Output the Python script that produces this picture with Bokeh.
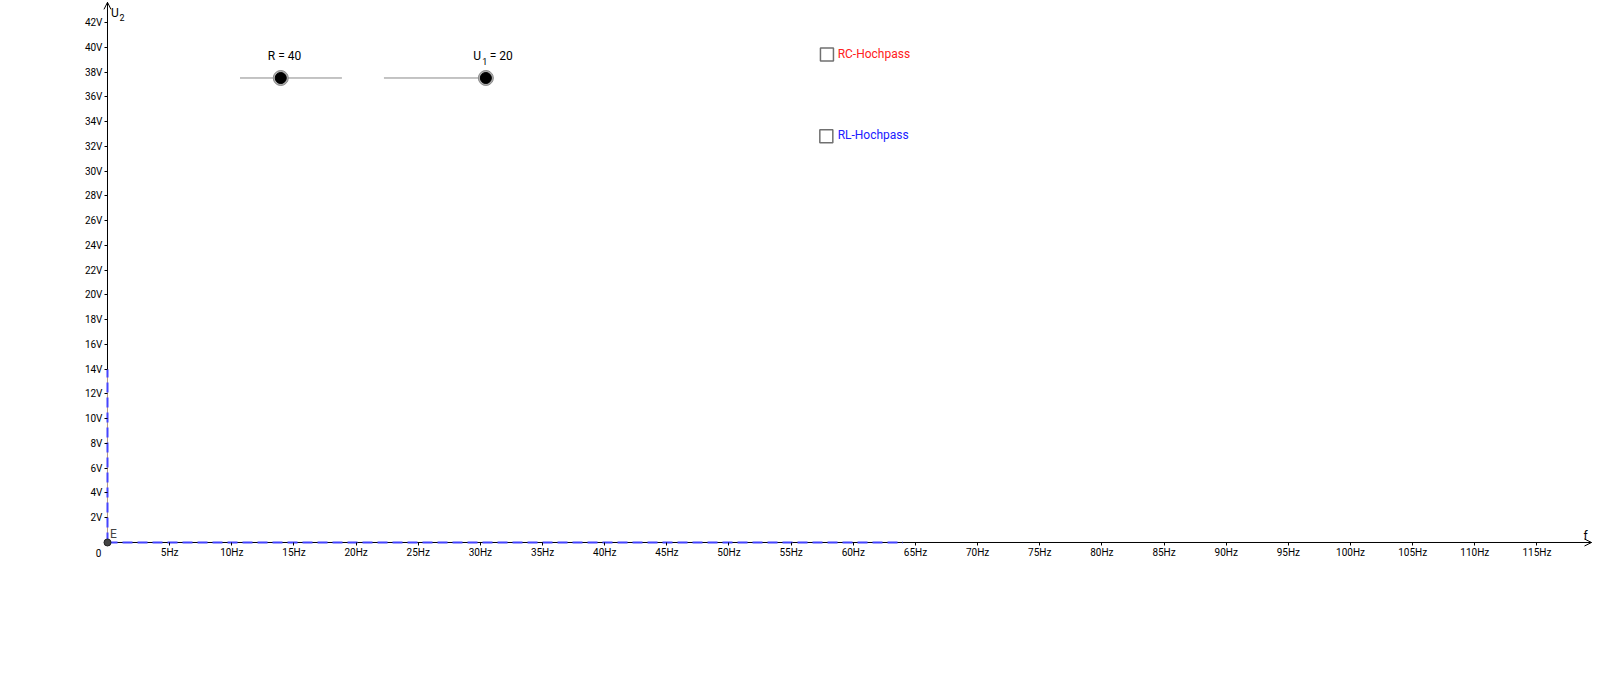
from bokeh.plotting import figure
from bokeh.models import FixedTicker, Arrow, OpenHead, Range1d
from bokeh.core.properties import value
from bokeh.embed import file_html
from bokeh.resources import INLINE

# ---- data ----
x_ticks = list(range(5, 120, 5))          # Hz
x_tick_labels = [f"{t}Hz" for t in x_ticks]
y_ticks = list(range(2, 44, 2))           # V
y_tick_labels = [f"{t}V" for t in y_ticks]

R_value, R_min, R_max = 40, 0, 100
U1_value, U1_min, U1_max = 20, 0, 20

# visible (degenerate) curve pieces, dashed blue
curve_h_f = [0, 64]
curve_h_u = [0, 0]
curve_v_f = [0, 0]
curve_v_u = [0, 14]

checkbox_labels = ["RC-Hochpass", "RL-Hochpass"]
checkbox_colors = ["#ff2020", "#2020ff"]

FONT = value("Roboto")

W, H = 1592, 674
SX, SY = 12.43, 12.38
X0 = -8.608
X1 = X0 + W / SX
Y1 = 43.78
Y0 = Y1 - H / SY

p = figure(width=W, height=H,
           x_range=Range1d(X0, X1), y_range=Range1d(Y0, Y1),
           output_backend="svg", toolbar_location=None, min_border=0,
           outline_line_color=None, background_fill_color="white",
           border_fill_color="white")
p.grid.visible = False

# axes fixed through the origin
for ax in (p.xaxis, p.yaxis):
    ax.fixed_location = 0
    ax.axis_line_color = None
    ax.major_tick_in = 0
    ax.major_tick_out = 3
    ax.minor_tick_line_color = None
    ax.major_tick_line_color = "black"
    ax.major_label_text_font = "Roboto"
    ax.major_label_text_font_size = "10px"
    ax.major_label_text_color = "black"
    ax.major_label_standoff = 2
p.xaxis.ticker = FixedTicker(ticks=x_ticks)
p.xaxis.major_label_overrides = {t: l for t, l in zip(x_ticks, x_tick_labels)}
p.yaxis.ticker = FixedTicker(ticks=y_ticks)
p.yaxis.major_label_overrides = {t: l for t, l in zip(y_ticks, y_tick_labels)}

# axis lines (positive direction only) with open arrow heads
x_tip = X1 - 0.08
y_tip = Y1 - 0.15
p.line([0, x_tip], [0, 0], line_color="black", line_width=1)
p.line([0, 0], [0, y_tip], line_color="black", line_width=1)
p.add_layout(Arrow(end=OpenHead(size=7, line_width=1, line_color="black"),
                   x_start=x_tip - 0.3, y_start=0, x_end=x_tip, y_end=0,
                   line_color="black", line_width=1))
p.add_layout(Arrow(end=OpenHead(size=7, line_width=1, line_color="black"),
                   x_start=0, y_start=y_tip - 0.3, x_end=0, y_end=y_tip,
                   line_color="black", line_width=1))

# curves (dashed blue) drawn over the axes
p.line(curve_v_f, curve_v_u, line_color="#b89a88", line_width=1)
p.line(curve_h_f, curve_h_u, line_color="#4444ff", line_width=2, line_dash="10 5")
p.line(curve_v_f, curve_v_u, line_color="#4444ff", line_width=2, line_dash="10 5")

# axis titles
p.text(x=[0.28], y=[42.81], text=["U"], text_font=FONT, text_font_size="12px",
       text_color="black", text_baseline="alphabetic", text_align="left")
p.text(x=[0.97], y=[42.40], text=["2"], text_font=FONT, text_font_size="9px",
       text_color="black", text_baseline="alphabetic", text_align="left")
p.text(x=[118.75], y=[0.55], text=["f"], text_font=FONT, text_font_size="12px",
       text_color="black", text_baseline="alphabetic", text_align="left")
p.text(x=[-0.72], y=[-0.85], text=["0"], text_font=FONT, text_font_size="10px",
       text_color="black", text_baseline="middle", text_align="center")

# point E at origin
p.scatter([0], [0], size=7, fill_color="#444444", line_color="#222222")
p.text(x=[0.2], y=[0.68], text=["E"], text_font=FONT, text_font_size="12px",
       text_color="#444444", text_baseline="alphabetic", text_align="left")

# sliders
slider_len = 8.2
slider_y = 37.52
R_x0 = 10.66
U_x0 = 22.24
p.line([R_x0, R_x0 + slider_len], [slider_y, slider_y], line_color="#888888", line_width=1)
p.line([U_x0, U_x0 + slider_len], [slider_y, slider_y], line_color="#888888", line_width=1)
R_knob = R_x0 + slider_len * (R_value - R_min) / (R_max - R_min)
U_knob = U_x0 + slider_len * (U1_value - U1_min) / (U1_max - U1_min)
p.scatter([R_knob, U_knob], [slider_y, slider_y], size=15, fill_color="#b0b0b0",
          line_color="#8a8a8a", line_width=1)
p.scatter([R_knob, U_knob], [slider_y, slider_y], size=11, fill_color="black",
          line_color="black")
lab_y = 39.26
p.text(x=[R_knob + 0.3], y=[lab_y], text=[f"R = {R_value}"], text_font=FONT,
       text_font_size="12px", text_color="black", text_baseline="alphabetic",
       text_align="center")
p.text(x=[29.42], y=[lab_y], text=["U"], text_font=FONT, text_font_size="12px",
       text_color="black", text_baseline="alphabetic", text_align="left")
p.text(x=[30.15], y=[lab_y - 0.37], text=["1"], text_font=FONT, text_font_size="9px",
       text_color="black", text_baseline="alphabetic", text_align="left")
p.text(x=[30.75], y=[lab_y], text=[f"= {U1_value}"], text_font=FONT,
       text_font_size="12px", text_color="black", text_baseline="alphabetic",
       text_align="left")

# checkboxes
cb_x = [57.88, 57.83]
cb_y = [39.42, 32.81]
lbl_x = [58.74, 58.74]
lbl_y = [39.48, 32.88]
p.scatter(cb_x, cb_y, marker="square", size=13, fill_color="white",
          line_color="#707070", line_width=1.5)
p.text(x=lbl_x, y=lbl_y, text=checkbox_labels, text_color=checkbox_colors,
       text_font=FONT, text_font_size="12px", text_baseline="alphabetic",
       text_align="left")

open("out.html", "w").write(file_html(p, INLINE))
